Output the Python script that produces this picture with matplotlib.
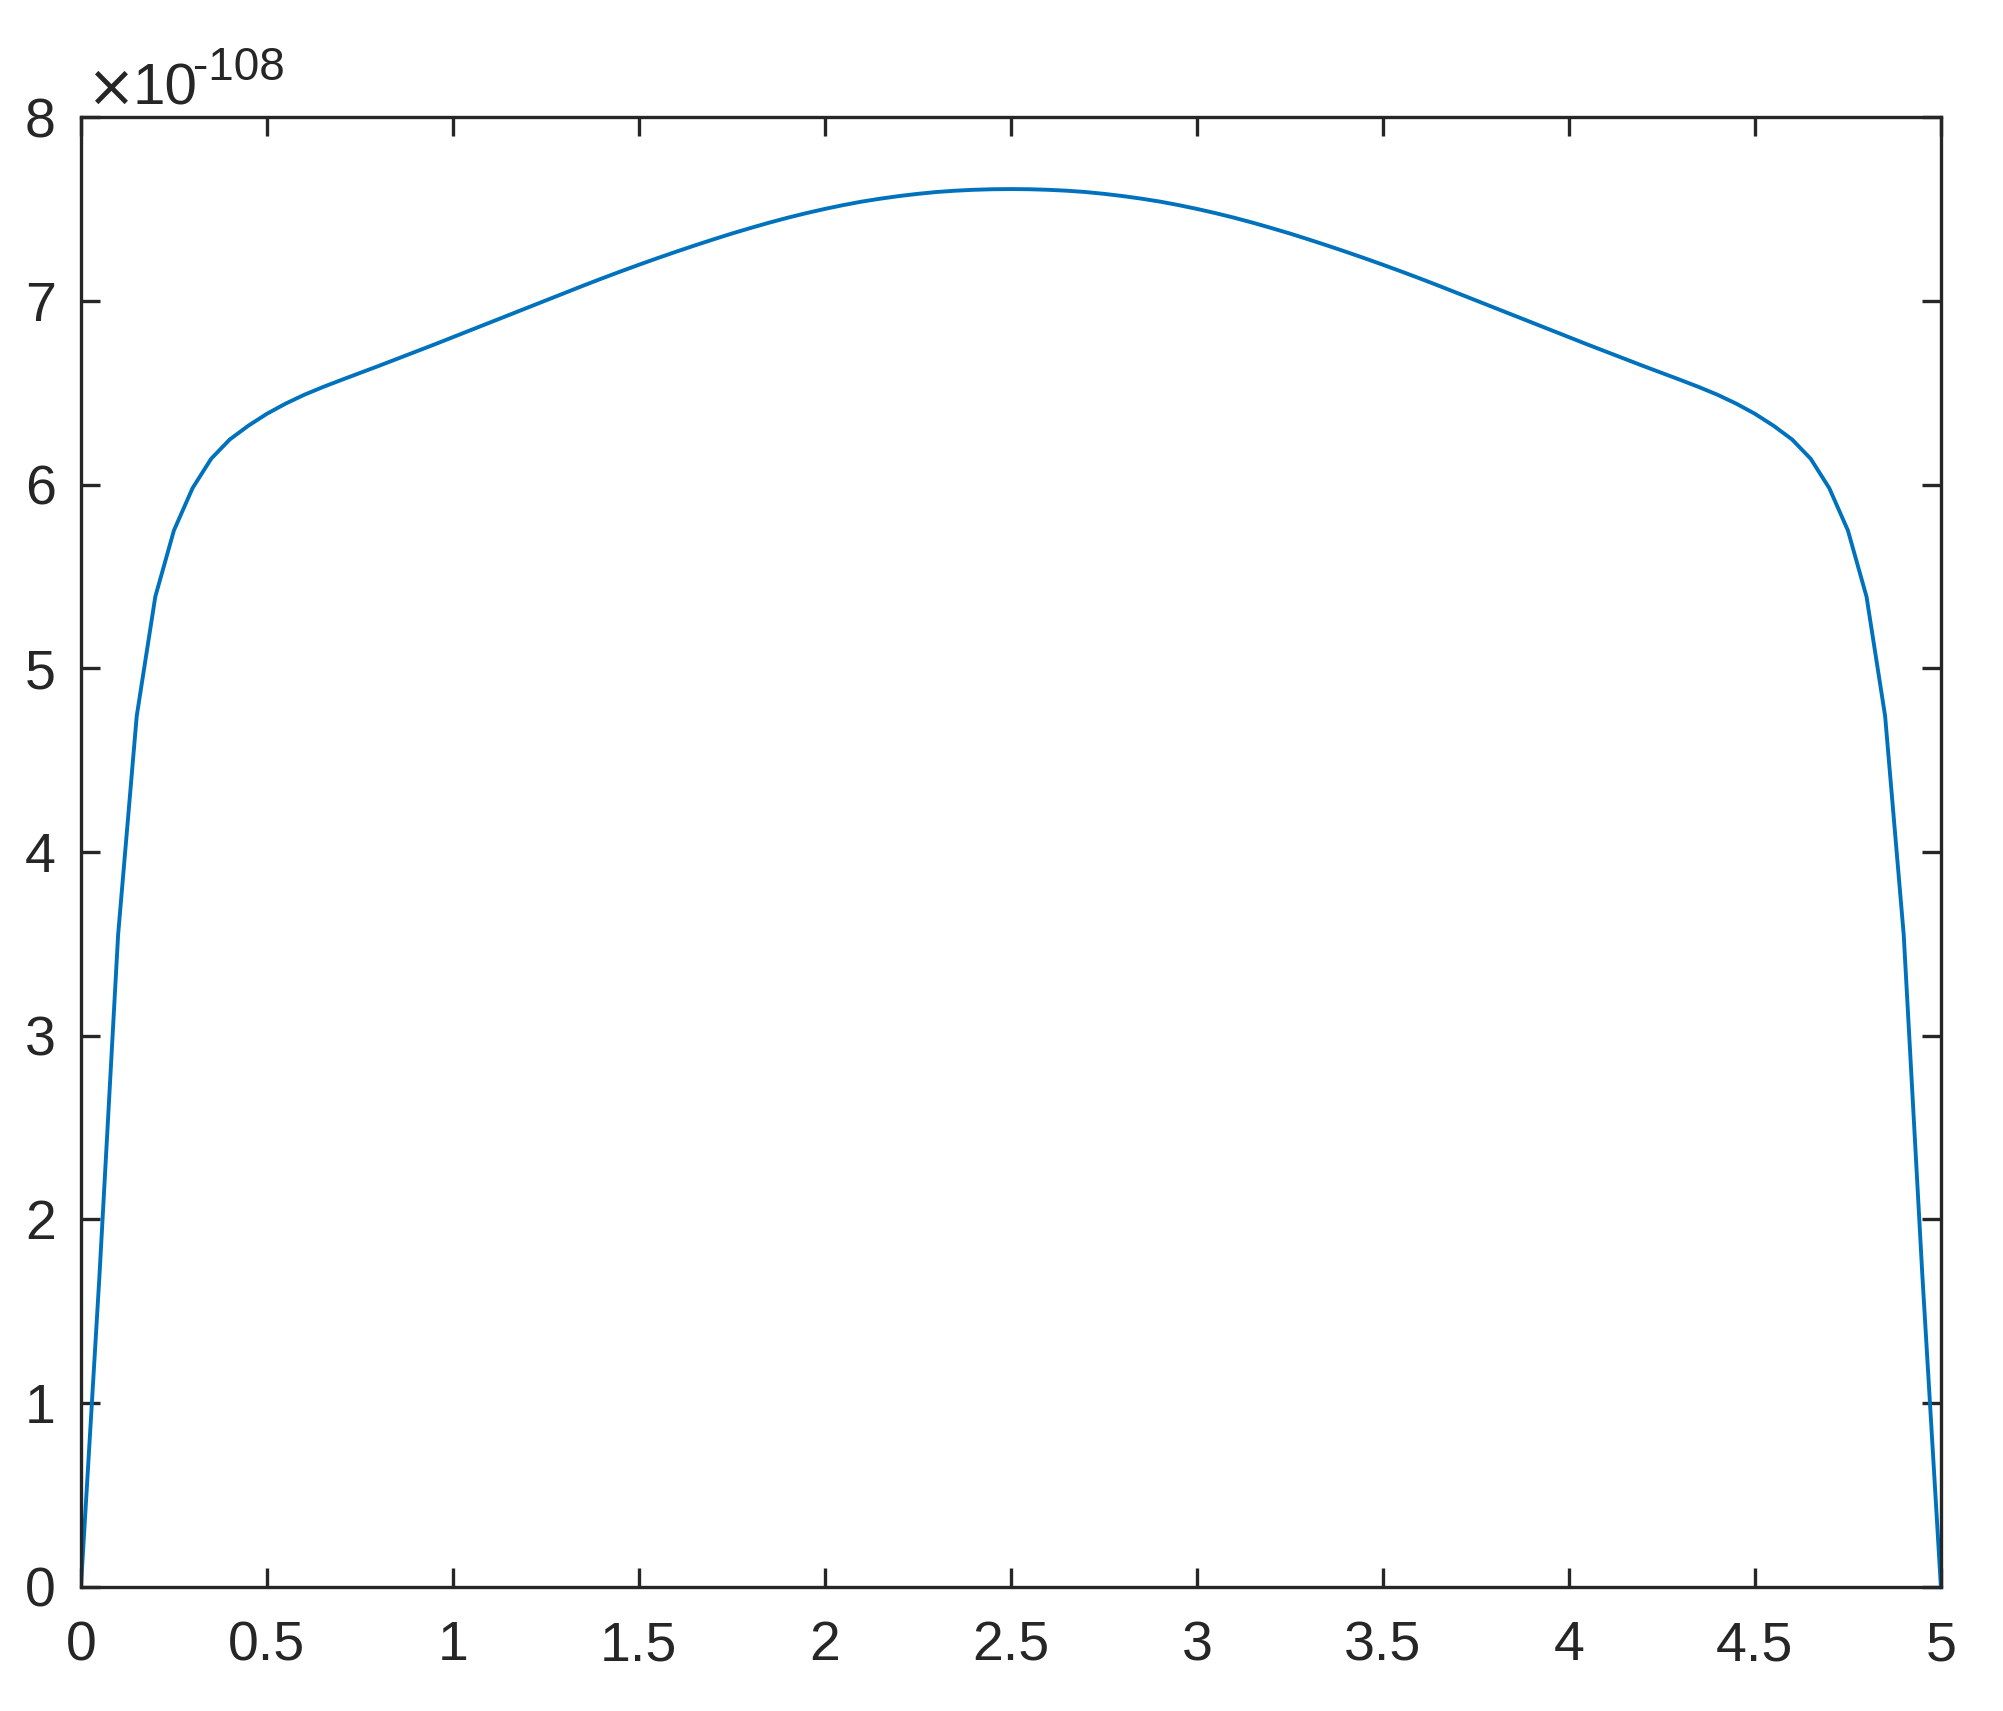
import numpy as np
import matplotlib.pyplot as plt

# sample points (step 0.05) and values in units of 1e-108
x = [0.00, 0.05, 0.10, 0.15, 0.20, 0.25, 0.30, 0.35, 0.40, 0.45,
     0.50, 0.55, 0.60, 0.65, 0.70, 0.75, 0.80, 0.85, 0.90, 0.95,
     1.00, 1.05, 1.10, 1.15, 1.20, 1.25, 1.30, 1.35, 1.40, 1.45,
     1.50, 1.55, 1.60, 1.65, 1.70, 1.75, 1.80, 1.85, 1.90, 1.95,
     2.00, 2.05, 2.10, 2.15, 2.20, 2.25, 2.30, 2.35, 2.40, 2.45,
     2.50, 2.55, 2.60, 2.65, 2.70, 2.75, 2.80, 2.85, 2.90, 2.95,
     3.00, 3.05, 3.10, 3.15, 3.20, 3.25, 3.30, 3.35, 3.40, 3.45,
     3.50, 3.55, 3.60, 3.65, 3.70, 3.75, 3.80, 3.85, 3.90, 3.95,
     4.00, 4.05, 4.10, 4.15, 4.20, 4.25, 4.30, 4.35, 4.40, 4.45,
     4.50, 4.55, 4.60, 4.65, 4.70, 4.75, 4.80, 4.85, 4.90, 4.95,
     5.00]
y = [0.000, 1.700, 3.550, 4.740, 5.390, 5.750, 5.980, 6.140, 6.245, 6.320,
     6.385, 6.440, 6.488, 6.530, 6.569, 6.607, 6.645, 6.684, 6.723, 6.762,
     6.802, 6.842, 6.882, 6.922, 6.962, 7.002, 7.042, 7.082, 7.121, 7.159,
     7.196, 7.232, 7.267, 7.301, 7.334, 7.366, 7.396, 7.425, 7.452, 7.477,
     7.500, 7.521, 7.540, 7.556, 7.570, 7.582, 7.592, 7.599, 7.604, 7.607,
     7.608, 7.607, 7.604, 7.599, 7.592, 7.582, 7.570, 7.556, 7.540, 7.521,
     7.500, 7.477, 7.452, 7.425, 7.396, 7.366, 7.334, 7.301, 7.267, 7.232,
     7.196, 7.159, 7.121, 7.082, 7.042, 7.002, 6.962, 6.922, 6.882, 6.842,
     6.802, 6.762, 6.723, 6.684, 6.645, 6.607, 6.569, 6.530, 6.488, 6.440,
     6.385, 6.320, 6.245, 6.140, 5.980, 5.750, 5.390, 4.740, 3.550, 1.700,
     0.000]

xticks = [0, 0.5, 1, 1.5, 2, 2.5, 3, 3.5, 4, 4.5, 5]
xticklabels = ['0', '0.5', '1', '1.5', '2', '2.5', '3', '3.5', '4', '4.5', '5']
yticks = [0, 1, 2, 3, 4, 5, 6, 7, 8]

dark = '#262626'
plt.rcParams['font.family'] = ['Liberation Sans', 'DejaVu Sans']

fig = plt.figure(figsize=(10.015, 8.555), dpi=200)
ax = fig.add_axes([0.0404, 0.0725, 0.9286, 0.8591])

ax.plot(x, y, color='#0072BD', linewidth=1.4)

ax.set_xlim(0, 5)
ax.set_ylim(0, 8)
ax.set_xticks(xticks)
ax.set_xticklabels(xticklabels)
ax.set_yticks(yticks)

for spine in ax.spines.values():
    spine.set_color(dark)
    spine.set_linewidth(1.2)
ax.tick_params(direction='in', length=7, width=1.2, color=dark,
               labelcolor=dark, labelsize=20, top=True, right=True)
ax.tick_params(axis='x', pad=12)
ax.tick_params(axis='y', pad=9)

# exponent label in the MATLAB style
ax.text(0.0032, 1.0075, '\u00d7', transform=ax.transAxes, fontsize=21,
        family='DejaVu Sans', color=dark, ha='left', va='baseline')
ax.text(0.0279, 1.0088, '10', transform=ax.transAxes, fontsize=21,
        color=dark, ha='left', va='baseline')
ax.text(0.0602, 1.0252, '-108', transform=ax.transAxes, fontsize=16.5,
        color=dark, ha='left', va='baseline')

fig.savefig('out.png', dpi=200)
